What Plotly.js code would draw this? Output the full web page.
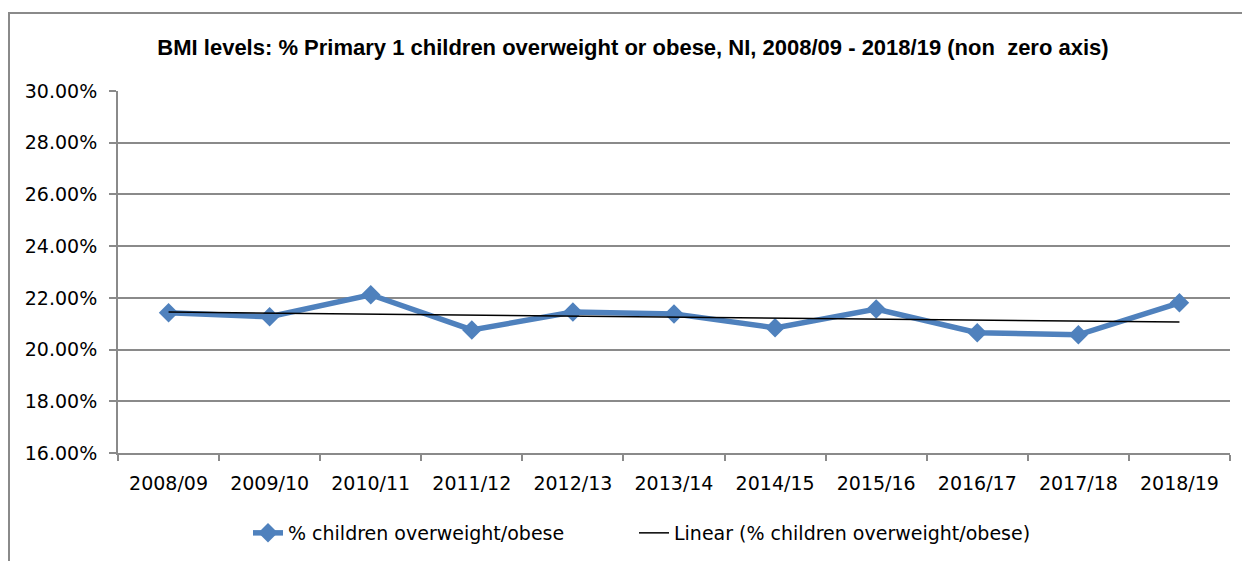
<!DOCTYPE html>
<html>
<head>
<meta charset="utf-8">
<script src="https://cdn.plot.ly/plotly-3.0.1.min.js"></script>
<style>
  html, body { margin: 0; padding: 0; background: #fff; }
  #wrap { position: relative; width: 1242px; height: 561px; overflow: hidden; }
  #frame { position: absolute; left: 8px; top: 12px; width: 1300px; height: 600px;
           border-left: 2px solid #8a8a8a; border-top: 2px solid #8a8a8a; pointer-events: none; }
  #chart { position: absolute; left: 0; top: 0; width: 1242px; height: 561px; }
</style>
</head>
<body>
<div id="wrap">
  <div id="chart"></div>
  <div id="frame"></div>
</div>
<script>
const years = ["2008/09","2009/10","2010/11","2011/12","2012/13","2013/14","2014/15","2015/16","2016/17","2017/18","2018/19"];
const pctOverweight = [21.42, 21.27, 22.12, 20.76, 21.45, 21.38, 20.84, 21.57, 20.65, 20.57, 21.81];
const yTickVals = [16, 18, 20, 22, 24, 26, 28, 30];
const yTickText = yTickVals.map(v => v.toFixed(2) + "%");
const seriesName = "% children overweight/obese";
const trendName = "Linear (% children overweight/obese)";
const titleText = "BMI levels: % Primary 1 children overweight or obese, NI, 2008/09 - 2018/19 (non  zero axis)";

// least-squares linear trend computed from the data
const n = pctOverweight.length;
const xs = pctOverweight.map((_, i) => i);
const mx = xs.reduce((a, b) => a + b, 0) / n;
const my = pctOverweight.reduce((a, b) => a + b, 0) / n;
let sxy = 0, sxx = 0;
for (let i = 0; i < n; i++) { sxy += (xs[i] - mx) * (pctOverweight[i] - my); sxx += (xs[i] - mx) ** 2; }
const slope = sxy / sxx;
const trend = xs.map(x => my + slope * (x - mx));

const fontFam = "DejaVu Sans, Liberation Sans, sans-serif";

const data = [
  {
    x: years, y: pctOverweight, name: seriesName, type: "scatter", mode: "lines+markers",
    line: { color: "#4F81BD", width: 5.5 },
    marker: { symbol: "diamond", size: 15, color: "#4F81BD" },
    legend: "legend"
  },
  {
    x: years, y: trend, name: trendName, type: "scatter", mode: "lines",
    line: { color: "#000000", width: 1.5 },
    legend: "legend2"
  }
];

const legendBase = {
  orientation: "h", xref: "container", yref: "container",
  xanchor: "left", y: 1 - 533 / 561, yanchor: "middle",
  bgcolor: "rgba(0,0,0,0)",
  font: { family: fontFam, size: 19, color: "#000" }
};

const layout = {
  width: 1242, height: 561,
  margin: { l: 118, r: 12, t: 91, b: 108 },
  paper_bgcolor: "#ffffff", plot_bgcolor: "#ffffff",
  font: { family: fontFam, size: 19, color: "#000" },
  title: {
    text: "<b>" + titleText + "</b>",
    font: { family: "Liberation Sans, Arial, sans-serif", size: 22, color: "#000" },
    x: 633 / 1242, xanchor: "center", xref: "container",
    y: 1 - 47 / 561, yanchor: "middle", yref: "container"
  },
  xaxis: {
    type: "category", range: [-0.5, 10.5],
    showgrid: false, showline: true, linecolor: "#8a8a8a", linewidth: 2,
    ticks: "outside", tickson: "boundaries", ticklen: 6, tickwidth: 2, tickcolor: "#8a8a8a",
    ticklabelstandoff: 12,
    tickfont: { family: fontFam, size: 19, color: "#000" }, fixedrange: true
  },
  yaxis: {
    range: [16, 30], tickmode: "array", tickvals: yTickVals, ticktext: yTickText,
    showgrid: true, gridcolor: "#8a8a8a", gridwidth: 2,
    showline: true, linecolor: "#8a8a8a", linewidth: 2,
    ticks: "outside", ticklen: 7, tickwidth: 2, tickcolor: "#8a8a8a",
    ticklabelstandoff: 8,
    tickfont: { family: fontFam, size: 19, color: "#000" }, zeroline: false, fixedrange: true
  },
  showlegend: true,
  legend: Object.assign({}, legendBase, { x: 248 / 1242 }),
  legend2: Object.assign({}, legendBase, { x: 634 / 1242 })
};

Plotly.newPlot("chart", data, layout, { displayModeBar: false, staticPlot: true });
</script>
</body>
</html>
